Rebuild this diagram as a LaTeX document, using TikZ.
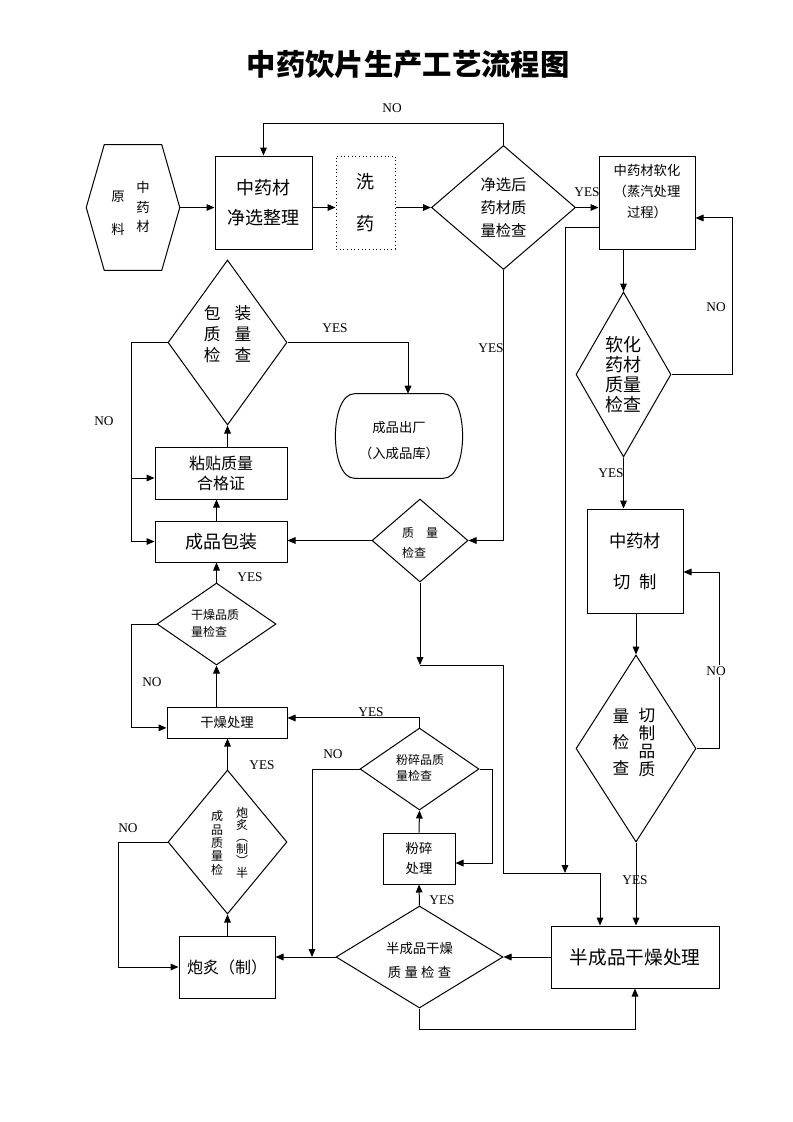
\documentclass[tikz,border=0pt]{standalone}
\usepackage{fontspec}
\setmainfont{Liberation Serif}
\newfontfamily\cjk{Noto Sans CJK SC}
\usetikzlibrary{arrows.meta,shapes.geometric}
\newcommand{\px}{0.75pt}
\newcommand{\cnfont}[2]{\cjk\fontsize{#1}{#2}\selectfont}
\tikzset{
  box/.style={draw, line width=0.75pt, align=center, inner sep=0pt},
  check/.style={draw, diamond, line width=0.75pt, inner sep=0pt},
  arr/.style={line width=0.75pt, -{Triangle[length=6pt,width=5pt]}},
  lbl/.style={font=\fontsize{10}{12}\selectfont, inner sep=1pt},
  txt/.style={align=center, inner sep=0pt},
}

\begin{document}
\begin{tikzpicture}[x=0.75pt, y=-0.75pt]
\useasboundingbox (0,0) rectangle (793,1122);
\node[font={\cjk\bfseries\fontsize{22}{26}\selectfont}] (title) at (408,64) {中药饮片生产工艺流程图};
%top row
\node[minimum width=93*\px, minimum height=125*\px, inner sep=0pt] (raw) at (133,207.5) {};
\draw[line width=0.75pt] (raw.west) -- ([xshift=13.5pt]raw.north west) -- ([xshift=-13.5pt]raw.north east) -- (raw.east) -- ([xshift=-13.5pt]raw.south east) -- ([xshift=13.5pt]raw.south west) -- cycle;
\node[txt, font=\cnfont{10}{24.75}] (raw-a) at (118,213.5) {原\\料};
\node[txt, font=\cnfont{10}{14.6}] (raw-b) at (143,207) {中\\药\\材};
\node[box, minimum width=97*\px, minimum height=93*\px, font=\cnfont{13.5}{23}] (clean) at (263.5,202.5) {中药材\\净选整理};
\node[box, dotted, minimum width=59*\px, minimum height=93*\px, font=\cnfont{13.5}{31.5}] (wash) at (365.5,202.5) {洗\\药};
\node[check, minimum width=144*\px, minimum height=124*\px] (dec1) at (503.5,207.5) {};
\node[txt, font=\cnfont{11.5}{17.5}] (dec1-t) at (dec1) {净选后\\药材质\\量检查};
\node[box, minimum width=96*\px, minimum height=93*\px] (soften) at (647,202.5) {};
\node[txt, font=\cnfont{10}{15.75}] (soften-t) at (647,192) {中药材软化\\（蒸汽处理\\过程）};
%right column
\node[check, minimum width=95*\px, minimum height=165*\px] (softchk) at (623.5,374.5) {};
\node[txt, font=\cnfont{13.5}{15}] (softchk-t) at (softchk) {软化\\药材\\质量\\检查};
\node[box, minimum width=96*\px, minimum height=104*\px, font=\cnfont{13}{30.75}] (cut) at (635,561) {中药材\\切\hspace{7pt}制};
\node[check, minimum width=120*\px, minimum height=187*\px] (cutchk) at (636,748.5) {};
\node[txt, font=\cnfont{12.5}{19.5}] (cutchk-a) at (621,742) {量\\检\\查};
\node[txt, font=\cnfont{12.5}{13.5}] (cutchk-b) at (647,742) {切\\制\\品\\质};
\node[box, minimum width=168*\px, minimum height=62*\px, font=\cnfont{14}{17}] (semidry) at (635,957) {半成品干燥处理};
%bottom middle
\node[check, minimum width=167*\px, minimum height=102*\px] (hdchk) at (419.5,957) {};
\node[txt, font=\cnfont{10}{18}] (hdchk-t) at (419.5,960) {半成品干燥\\质\hspace{2.5pt}量\hspace{2.5pt}检\hspace{2.5pt}查};
\node[box, minimum width=72*\px, minimum height=51*\px, font=\cnfont{10}{15}] (mill) at (419,858.5) {粉碎\\处理};
\node[check, minimum width=119*\px, minimum height=82*\px] (millchk) at (419.5,769) {};
\node[txt, align=left, font=\cnfont{9}{12}] (millchk-t) at (420,768) {粉碎品质\\量检查};
%left column
\node[box, minimum width=96*\px, minimum height=62*\px, font=\cnfont{12}{15}] (roast) at (227,967) {炮炙（制）};
\node[check, minimum width=119*\px, minimum height=144*\px] (roastchk) at (227.5,842) {};
\node[txt, font=\cnfont{9}{10}] (roastchk-a) at (217,843) {成\\品\\质\\量\\检};
\node[txt, font=\cnfont{9}{9}] (roastchk-b) at (242,843) {炮\\炙\\︵\\制\\︶\\半};
\node[box, minimum width=120*\px, minimum height=31*\px, font=\cnfont{10}{12}] (dry) at (227,722.5) {干燥处理};
\node[check, minimum width=119*\px, minimum height=82*\px] (drychk) at (216.5,624) {};
\node[txt, align=left, font=\cnfont{9}{12.75}] (drychk-t) at (215,623.5) {干燥品质\\量检查};
\node[box, minimum width=132*\px, minimum height=41*\px, font=\cnfont{13.5}{16}] (pack) at (221,541.5) {成品包装};
\node[check, minimum width=96*\px, minimum height=83*\px] (qc) at (420,540.5) {};
\node[txt, align=left, font=\cnfont{9}{15}] (qc-t) at (420,543) {质\hspace{9pt}量\\检查};
\node[box, minimum width=132*\px, minimum height=52*\px, font=\cnfont{12}{15}] (label) at (221,473) {粘贴质量\\合格证};
\node[check, minimum width=119*\px, minimum height=165*\px] (packchk) at (227.5,342.5) {};
\node[txt, font=\cnfont{12.5}{15.75}] (packchk-t) at (227.5,334) {包\hspace{10.5pt}装\\质\hspace{10.5pt}量\\检\hspace{10.5pt}查};
\node[minimum width=126*\px, minimum height=84*\px, inner sep=0pt] (ship) at (399,436) {};
\draw[line width=0.75pt] ([xshift=14pt]ship.north west) -- ([xshift=-14pt]ship.north east) .. controls ([xshift=5pt]ship.north east) and ([xshift=5pt]ship.south east) .. ([xshift=-14pt]ship.south east) -- ([xshift=14pt]ship.south west) .. controls ([xshift=-5pt]ship.south west) and ([xshift=-5pt]ship.north west) .. cycle;
\node[txt, font=\cnfont{10}{19.5}] (ship-t) at (399,441) {成品出厂\\（入成品库）};
%joints
\coordinate (byp) at (565,873);
\coordinate (qj) at (420,665);
\coordinate (bj) at (503,873);
\coordinate (sj) at (600,873);
\coordinate (mj) at (312,957);
\coordinate (nj) at (132,478);
%connectors
\draw[arr] (raw.east) -- (raw.east -| clean.west);
\draw[arr] (dec1 -| clean.east) -- (dec1 -| wash.west);
\draw[arr] (dec1 -| wash.east) -- (dec1.west);
\draw[arr] (dec1.north) -- ++(0,-22) -| (clean.north);
\draw[arr] (dec1.east) -- (dec1.east -| soften.west);
\draw[arr] (dec1.south) |- (qc.east);
\draw[arr] ([yshift=-19pt]soften.west) -| (byp);
\draw[arr] (softchk |- soften.south) -- (softchk.north);
\draw[arr] (softchk.east) -- ++(61,0) |- ([yshift=-11.6pt]soften.east);
\draw[arr] (softchk.south) -- (softchk.south |- cut.north);
\draw[arr] (cutchk |- cut.south) -- (cutchk.north);
\draw[arr] (cutchk.east) -- ++(23,0) |- ([yshift=-8.25pt]cut.east);
\draw[arr] (cutchk.south) -- (cutchk.south |- semidry.north);
\draw[arr] (semidry.west) -- (hdchk.east);
\draw[arr] (hdchk.south) -- ++(0,21) -| (semidry.south);
\draw[arr] (hdchk.north) -- (mill.south);
\draw[arr] (mill.north) -- (millchk.south);
\draw[arr] (millchk.east) -- ++(13,0) |- ([yshift=-3.4pt]mill.east);
\draw[arr] (millchk.west) -| (mj);
\draw[arr] (millchk.north) |- ([yshift=3.4pt]dry.east);
\draw[arr] (hdchk.west) -- (hdchk.west -| roast.east);
\draw[arr] (roastchk |- roast.north) -- (roastchk.south);
\draw[arr] (roastchk.west) -- ++(-49,0) |- (roast.west);
\draw[arr] (roastchk.north) -- (roastchk.north |- dry.south);
\draw[arr] (drychk |- dry.north) -- (drychk.south);
\draw[arr] (drychk.west) -- ++(-25,0) |- ([yshift=-4pt]dry.west);
\draw[arr] (drychk.north) -- (drychk.north |- pack.south);
\draw[arr] (qc.west) -- (qc.west -| pack.east);
\draw[arr] (qc.south) -- (qj);
\draw[arr] (qj) -| (bj) -| (sj |- semidry.north);
\draw[arr] (drychk |- pack.north) -- (drychk |- label.south);
\draw[arr] (packchk |- label.north) -- (packchk.south);
\draw[arr] (packchk.west) -- ++(-36,0) |- (pack.west);
\draw[arr] (nj) -- (nj -| label.west);
\draw[arr] (packchk.east) -| ([xshift=6.75pt]ship.north);
%labels
\node[lbl] (no1) at (392,108) {NO};
\node[lbl] (yes1) at (587,192) {YES};
\node[lbl] (yes2) at (491,348) {YES};
\node[lbl, fill=white] (no2) at (716,307) {NO};
\node[lbl] (yes3) at (611,473) {YES};
\node[lbl, fill=white] (no3) at (716,671) {NO};
\node[lbl] (yes4) at (635,880) {YES};
\node[lbl] (yes5) at (442,900) {YES};
\node[lbl] (no4) at (333,754) {NO};
\node[lbl] (yes6) at (371,712) {YES};
\node[lbl] (no5) at (128,828) {NO};
\node[lbl] (yes7) at (262,765) {YES};
\node[lbl] (no6) at (152,682) {NO};
\node[lbl] (yes8) at (250,577) {YES};
\node[lbl] (no7) at (104,421) {NO};
\node[lbl] (yes9) at (335,328) {YES};
\end{tikzpicture}
\end{document}
